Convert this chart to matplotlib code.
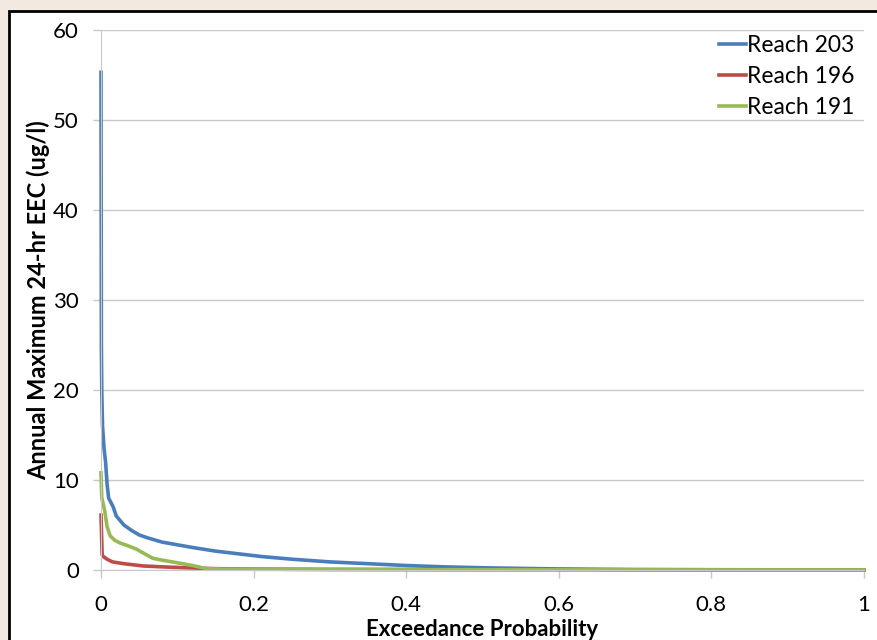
import matplotlib
matplotlib.use("Agg")
import matplotlib.pyplot as plt
from matplotlib.patches import Rectangle

# Reach 203 (blue)
x_203 = [0, 0.0005, 0.001, 0.002, 0.004, 0.006, 0.008, 0.010, 0.013, 0.016, 0.020, 0.025,
         0.030, 0.040, 0.050, 0.060, 0.080, 0.100, 0.120, 0.150, 0.180, 0.210, 0.250,
         0.300, 0.350, 0.400, 0.450, 0.500, 0.550, 0.600, 0.650, 0.700, 0.800, 0.900, 1.0]
y_203 = [55.3, 25, 20, 16, 13.5, 12, 9.5, 8, 7.5, 7, 6, 5.5,
         5, 4.4, 3.9, 3.6, 3.1, 2.8, 2.5, 2.1, 1.8, 1.5, 1.2,
         0.9, 0.7, 0.5, 0.35, 0.25, 0.18, 0.12, 0.08, 0.05, 0.03, 0.02, 0.01]

# Reach 196 (red)
x_196 = [0, 0.0015, 0.003, 0.008, 0.015, 0.03, 0.055, 0.08, 0.11, 0.15, 0.2, 0.3, 0.5, 0.7, 0.86, 1.0]
y_196 = [6.1, 1.7, 1.5, 1.2, 0.9, 0.7, 0.45, 0.35, 0.25, 0.15, 0.1, 0.07, 0.04, 0.03, 0.02, 0.01]

# Reach 191 (green)
x_191 = [0, 0.001, 0.003, 0.005, 0.008, 0.012, 0.018, 0.025, 0.035, 0.047, 0.055, 0.068,
         0.080, 0.100, 0.120, 0.138, 0.16, 0.2, 0.3, 0.5, 0.7, 1.0]
y_191 = [10.8, 8.0, 7.3, 6.5, 4.8, 3.8, 3.3, 3.0, 2.7, 2.3, 1.9, 1.3,
         1.1, 0.8, 0.5, 0.15, 0.1, 0.08, 0.05, 0.03, 0.02, 0.01]

x_ticks = [0, 0.2, 0.4, 0.6, 0.8, 1]
x_ticklabels = ["0", "0.2", "0.4", "0.6", "0.8", "1"]
y_ticks = [0, 10, 20, 30, 40, 50, 60]

plt.rcParams['font.family'] = ['Lato', 'DejaVu Sans']

fig = plt.figure(figsize=(8.77, 6.4), dpi=100)
fig.patch.set_facecolor('#f2eae0')
# white chart panel with black frame
fig.patches.append(Rectangle((9 / 877, -0.05), 1.0, 1 - 11 / 640 + 0.05, transform=fig.transFigure,
                             facecolor='white', edgecolor='black', lw=2, zorder=0))

ax = fig.add_axes([101 / 877, 1 - 570 / 640, (864 - 101) / 877, (570 - 30) / 640])
ax.set_zorder(2)
ax.set_facecolor('none')

ax.plot(x_203, y_203, color='#4a7ebb', lw=2.6, label='Reach 203', solid_joinstyle='round', clip_on=False)
ax.plot(x_196, y_196, color='#be4b48', lw=2.6, label='Reach 196', solid_joinstyle='round', clip_on=False)
ax.plot(x_191, y_191, color='#98b954', lw=2.6, label='Reach 191', solid_joinstyle='round', clip_on=False)

ax.set_xlim(0, 1)
ax.set_ylim(0, 60)
ax.set_xticks(x_ticks)
ax.set_xticklabels(x_ticklabels)
ax.set_yticks(y_ticks)
ax.grid(axis='y', color='#c8c8c8', lw=1)
ax.set_axisbelow(True)

for s in ['top', 'right']:
    ax.spines[s].set_visible(False)
ax.spines['left'].set_color('#c8c8c8')
ax.spines['bottom'].set_color('#c8c8c8')
ax.tick_params(axis='x', colors='#c8c8c8', length=6, width=1, labelcolor='black', labelsize=16, pad=12)
ax.tick_params(axis='y', colors='#c8c8c8', length=6, width=1, labelcolor='black', labelsize=16, pad=10)

ax.set_xlabel('Exceedance Probability', fontsize=16, fontweight='bold', labelpad=3)
ax.set_ylabel('Annual Maximum 24-hr EEC (ug/l)', fontsize=17, fontweight='bold', labelpad=2)

ax.legend(loc='upper right', frameon=False, fontsize=16.5, handlelength=1.15, handletextpad=0.08,
          labelspacing=0.45, borderaxespad=0.0, bbox_to_anchor=(1.0, 1.008))

fig.savefig('out.png', dpi=100, facecolor=fig.get_facecolor())
